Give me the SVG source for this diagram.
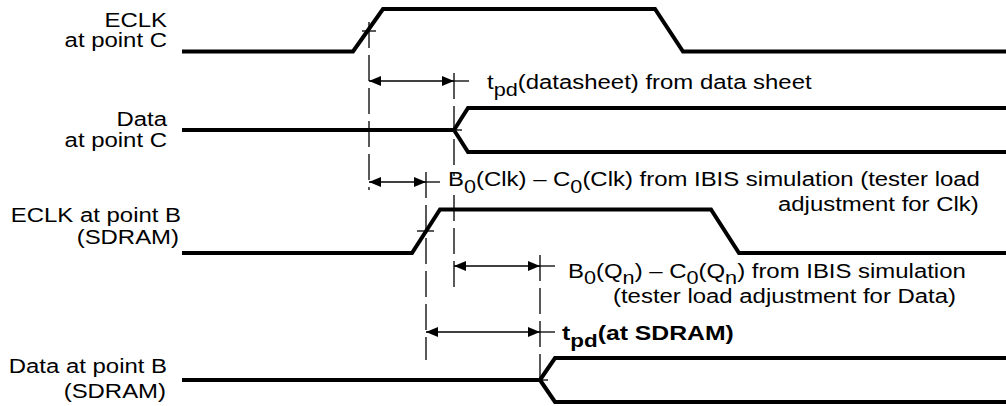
<svg xmlns="http://www.w3.org/2000/svg" width="1006" height="406" viewBox="0 0 1006 406">
  <style>
    .wave { fill: none; stroke: #000; stroke-width: 4; stroke-linejoin: miter; }
    .ref { fill: none; stroke: #000; stroke-width: 1.3; stroke-dasharray: 26 7; }
    .tick { fill: none; stroke: #000; stroke-width: 1.3; }
    .dim { fill: none; stroke: #000; stroke-width: 1.3; marker-start: url(#head); marker-end: url(#head); }
    .lbl { font-family: "Liberation Sans", Arial, Helvetica, sans-serif; font-size: 21px; fill: #000; }
    .bold { font-weight: bold; }
  </style>
  <defs>
    <marker id="head" viewBox="0 0 12 10" refX="12" refY="5" markerWidth="12" markerHeight="10" markerUnits="userSpaceOnUse" orient="auto-start-reverse">
      <path d="M0,0 L12,5 L0,10 Z" fill="#000"/>
    </marker>
  </defs>

  <rect width="1006" height="406" fill="#fff"/>

  <!-- signal names -->
  <g id="label-eclk-c" class="lbl" text-anchor="end">
    <text transform="translate(167,27) scale(1.14,1)">ECLK</text>
    <text transform="translate(167,47) scale(1.14,1)">at point C</text>
  </g>
  <g id="label-data-c" class="lbl" text-anchor="end">
    <text transform="translate(167,126) scale(1.14,1)">Data</text>
    <text transform="translate(167,147) scale(1.14,1)">at point C</text>
  </g>
  <g id="label-eclk-b" class="lbl" text-anchor="end">
    <text transform="translate(181,222) scale(1.14,1)">ECLK at point B</text>
    <text transform="translate(179,244) scale(1.14,1)">(SDRAM)</text>
  </g>
  <g id="label-data-b" class="lbl" text-anchor="end">
    <text transform="translate(167,373) scale(1.14,1)">Data at point B</text>
    <text transform="translate(166,398) scale(1.14,1)">(SDRAM)</text>
  </g>

  <!-- waveforms -->
  <g id="wave-eclk-c">
    <path class="wave" d="M182,51.5 H353 L383,9 H655 L683,51.5 H1006"/>
    <path class="tick" d="M362,31 H376"/>
  </g>
  <g id="wave-data-c">
    <path class="wave" d="M182,130 H454 L468,108 H1006 M454,130 L468,152 H1006"/>
    <path class="tick" d="M454,130 H462"/>
  </g>
  <g id="wave-eclk-b">
    <path class="wave" d="M182,253 H412 L440,209.5 H711 L739,253 H1006"/>
    <path class="tick" d="M417,231 H434"/>
  </g>
  <g id="wave-data-b">
    <path class="wave" d="M182,380 H540 L555,358 H1006 M540,380 L555,402 H1006"/>
    <path class="tick" d="M540,380 H548"/>
  </g>

  <!-- reference lines and timing dimensions -->
  <g id="connectors">
    <path class="ref" d="M369,22 V190"/>
    <path class="ref" d="M454,73 V176"/>
    <path class="ref" d="M454,195 V288"/>
    <path class="ref" d="M426,172 V360"/>
    <path class="ref" d="M540,255 V382"/>

    <path class="dim" d="M369,81 H454"/>
    <path class="tick" d="M454,81 H469"/>
    <path class="dim" d="M369,182 H426"/>
    <path class="tick" d="M426,182 H440"/>
    <path class="dim" d="M454,266 H540"/>
    <path class="tick" d="M540,266 H555"/>
    <path class="dim" d="M426,332 H540"/>
    <path class="tick" d="M540,332 H555"/>
  </g>

  <!-- timing annotations -->
  <g id="note-tpd-datasheet" class="lbl">
    <text transform="translate(487,89) scale(1.14,1)">t<tspan dy="7" font-size="19">pd</tspan><tspan dy="-7">(datasheet) from data sheet</tspan></text>
  </g>
  <g id="note-clk-adjust" class="lbl">
    <text transform="translate(448,186) scale(1.14,1)">B<tspan dy="7" font-size="19">0</tspan><tspan dy="-7">(Clk) – C</tspan><tspan dy="7" font-size="19">0</tspan><tspan dy="-7">(Clk) from IBIS simulation (tester load</tspan></text>
    <text transform="translate(778,211) scale(1.14,1)">adjustment for Clk)</text>
  </g>
  <g id="note-data-adjust" class="lbl">
    <text transform="translate(568,278) scale(1.14,1)">B<tspan dy="6" font-size="19">0</tspan><tspan dy="-6">(Q</tspan><tspan dy="6" font-size="19">n</tspan><tspan dy="-6">) – C</tspan><tspan dy="6" font-size="19">0</tspan><tspan dy="-6">(Q</tspan><tspan dy="6" font-size="19">n</tspan><tspan dy="-6">) from IBIS simulation</tspan></text>
    <text transform="translate(613,303) scale(1.14,1)">(tester load adjustment for Data)</text>
  </g>
  <g id="note-tpd-sdram" class="lbl bold">
    <text transform="translate(562,340) scale(1.18,1)">t<tspan dy="7" font-size="19">pd</tspan><tspan dy="-7">(at SDRAM)</tspan></text>
  </g>
</svg>
